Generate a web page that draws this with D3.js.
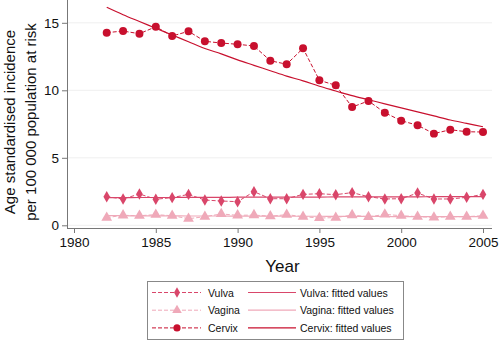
<!DOCTYPE html>
<html>
<head>
<meta charset="utf-8">
<script src="https://cdn.jsdelivr.net/npm/d3@7"></script>
<style>
  body { margin: 0; background: #fff; }
  text { font-family: "Liberation Sans", Arial, sans-serif; }
</style>
</head>
<body>
<div id="chart"></div>
<script>
// Incidence of vulva, vagina and cervix cancer, 1982-2005

const years = d3.range(1982, 2006);

const cervix = [14.27, 14.39, 14.19, 14.71, 14.02, 14.37, 13.63, 13.50, 13.41, 13.28, 12.19, 11.93,
  13.11, 10.74, 10.37, 8.76, 9.21, 8.34, 7.75, 7.41, 6.79, 7.08, 6.93, 6.91];
const cervixFit = [16.15, 15.6, 15.1, 14.6, 14.1, 13.6, 13.1, 12.7, 12.25, 11.85, 11.45, 11.05,
  10.7, 10.3, 9.95, 9.6, 9.3, 9.0, 8.7, 8.4, 8.1, 7.8, 7.55, 7.3];

const vulva = [2.12, 1.95, 2.32, 1.93, 2.05, 2.29, 1.87, 1.80, 1.75, 2.49, 1.97, 1.97,
  2.29, 2.34, 2.27, 2.42, 2.12, 1.95, 1.97, 2.39, 1.95, 1.95, 2.07, 2.29];
const vulvaFit = [2.05, 2.05, 2.06, 2.06, 2.06, 2.07, 2.07, 2.07, 2.08, 2.08, 2.08, 2.09,
  2.09, 2.09, 2.10, 2.10, 2.10, 2.11, 2.11, 2.11, 2.12, 2.12, 2.12, 2.13];

const vagina = [0.57, 0.74, 0.71, 0.79, 0.71, 0.49, 0.64, 0.84, 0.74, 0.76, 0.67, 0.79,
  0.64, 0.54, 0.57, 0.76, 0.62, 0.81, 0.71, 0.64, 0.59, 0.64, 0.64, 0.71];
const vaginaFit = [0.71, 0.71, 0.70, 0.70, 0.70, 0.69, 0.69, 0.69, 0.68, 0.68, 0.68, 0.67,
  0.67, 0.67, 0.66, 0.66, 0.66, 0.65, 0.65, 0.65, 0.64, 0.64, 0.64, 0.63];

const xTicks = [1980, 1985, 1990, 1995, 2000, 2005];
const yTicks = [0, 5, 10, 15];

const width = 500, height = 340;
const plot = { left: 67, right: 492, top: 0, bottom: 228 };

const colors = { vulva: "#d9466a", vagina: "#efa9b9", cervix: "#c8102e" };

const svg = d3.select("#chart")
  .append("svg")
  .attr("width", width)
  .attr("height", height);

const x = d3.scaleLinear()
  .domain([1980, 2005])
  .range([74, 483]);

const y = d3.scaleLinear()
  .domain([0, 15])
  .range([225.3, 22.8]);

// gridlines
svg.append("g")
  .selectAll("line")
  .data(yTicks)
  .join("line")
  .attr("x1", plot.left)
  .attr("x2", plot.right)
  .attr("y1", d => y(d))
  .attr("y2", d => y(d))
  .attr("stroke", "#efefef")
  .attr("stroke-width", 1);

// axes
const yAxis = svg.append("g")
  .attr("transform", `translate(${plot.left},0)`)
  .call(d3.axisLeft(y).tickValues(yTicks).tickSize(5).tickPadding(3));

const xAxis = svg.append("g")
  .attr("transform", `translate(0,${plot.bottom})`)
  .call(d3.axisBottom(x).tickValues(xTicks).tickFormat(d3.format("d")).tickSize(5).tickPadding(4));

[yAxis, xAxis].forEach(a => {
  a.select(".domain").remove();
  a.selectAll("line").attr("stroke", "#777");
  a.selectAll("text").attr("font-size", 13.5).attr("fill", "#111")
    .attr("font-family", "Liberation Sans, Arial, sans-serif");
});

svg.append("line")
  .attr("x1", plot.left + 0.5).attr("x2", plot.left + 0.5)
  .attr("y1", plot.top).attr("y2", plot.bottom)
  .attr("stroke", "#777");
svg.append("line")
  .attr("x1", plot.left).attr("x2", plot.right)
  .attr("y1", plot.bottom + 0.5).attr("y2", plot.bottom + 0.5)
  .attr("stroke", "#777");

// axis titles
svg.append("text")
  .attr("x", (x(1980) + x(2005)) / 2 + 4)
  .attr("y", 272)
  .attr("text-anchor", "middle")
  .attr("font-size", 17)
  .attr("fill", "#111")
  .text("Year");

const yTitle = svg.append("text")
  .attr("transform", "translate(0,122) rotate(-90)")
  .attr("text-anchor", "middle")
  .attr("font-size", 15)
  .attr("fill", "#111");
yTitle.append("tspan").attr("x", 0).attr("y", 15).text("Age standardised incidence");
yTitle.append("tspan").attr("x", 0).attr("y", 36).text("per 100 000 population at risk");

// series
const series = [
  { name: "Vulva", key: "vulva", values: vulva, fit: vulvaFit, marker: d3.symbolDiamond, size: 38 },
  { name: "Vagina", key: "vagina", values: vagina, fit: vaginaFit, marker: d3.symbolTriangle, size: 50 },
  { name: "Cervix", key: "cervix", values: cervix, fit: cervixFit, marker: d3.symbolCircle, size: 50 }
];

const line = d3.line()
  .x((d, i) => x(years[i]))
  .y(d => y(d));

const fitLine = d3.line()
  .x((d, i) => x(years[i]))
  .y(d => y(d))
  .curve(d3.curveMonotoneX);

series.forEach(s => {
  const g = svg.append("g");
  g.append("path")
    .attr("d", fitLine(s.fit))
    .attr("fill", "none")
    .attr("stroke", colors[s.key])
    .attr("stroke-width", 1.2);
  g.append("path")
    .attr("d", line(s.values))
    .attr("fill", "none")
    .attr("stroke", colors[s.key])
    .attr("stroke-width", 1)
    .attr("stroke-dasharray", "4,2");
  g.selectAll("path.m")
    .data(s.values)
    .join("path")
    .attr("class", "m")
    .attr("transform", (d, i) => `translate(${x(years[i])},${y(d)})`)
    .attr("d", d3.symbol(s.marker, s.size))
    .attr("fill", colors[s.key]);
});

// legend
const legend = svg.append("g");
legend.append("rect")
  .attr("x", 147.5).attr("y", 281.5)
  .attr("width", 256).attr("height", 58)
  .attr("fill", "#fff")
  .attr("stroke", "#888");

series.forEach((s, i) => {
  const ly = 292.5 + i * 17.7;
  legend.append("line")
    .attr("x1", 152).attr("x2", 201)
    .attr("y1", ly).attr("y2", ly)
    .attr("stroke", colors[s.key])
    .attr("stroke-dasharray", "4,2");
  legend.append("path")
    .attr("transform", `translate(177,${ly})`)
    .attr("d", d3.symbol(s.marker, s.size * 0.8))
    .attr("fill", colors[s.key]);
  legend.append("text")
    .attr("x", 208).attr("y", ly + 4)
    .attr("font-size", 10.5)
    .attr("fill", "#111")
    .text(s.name);
  legend.append("line")
    .attr("x1", 248).attr("x2", 296)
    .attr("y1", ly).attr("y2", ly)
    .attr("stroke", colors[s.key])
    .attr("stroke-width", 1.2);
  legend.append("text")
    .attr("x", 300).attr("y", ly + 4)
    .attr("font-size", 10.5)
    .attr("fill", "#111")
    .text(`${s.name}: fitted values`);
});
</script>
</body>
</html>
